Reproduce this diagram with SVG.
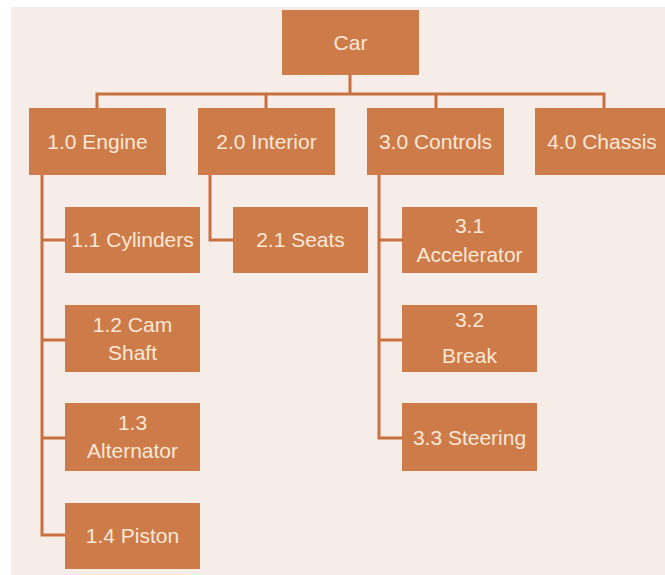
<svg xmlns="http://www.w3.org/2000/svg" width="665" height="575" viewBox="0 0 665 575">
<style>
.bg{fill:#f6ece8}
.box{fill:#cd7b48}
.t{font-family:"Liberation Sans",Arial,sans-serif;font-size:21px;fill:#fbe8d8;text-anchor:middle}
.c{fill:none;stroke:#c8713e;stroke-width:3}
</style>
<rect x="0" y="0" width="665" height="575" fill="#ffffff"/>
<rect class="bg" x="11" y="7" width="654" height="568"/>
<g id="connectors">
<path class="c" d="M350,75 V94 M97,108 V94 H604 V108 M266,94 V108 M436,94 V108"/>
<path class="c" d="M42,175 V535 H65 M42,240 H65 M42,340 H65 M42,438 H65"/>
<path class="c" d="M210,175 V240 H233"/>
<path class="c" d="M379,175 V438 H402 M379,240 H402 M379,340 H402"/>
</g>
<g id="car"><rect class="box" x="282" y="10" width="137" height="65"/><text class="t" x="350.5" y="50">Car</text></g>
<g id="engine"><rect class="box" x="29" y="108" width="137" height="67"/><text class="t" x="97.5" y="149">1.0 Engine</text></g>
<g id="interior"><rect class="box" x="198" y="108" width="137" height="67"/><text class="t" x="266.5" y="149">2.0 Interior</text></g>
<g id="controls"><rect class="box" x="367" y="108" width="137" height="67"/><text class="t" x="435.5" y="149">3.0 Controls</text></g>
<g id="chassis"><rect class="box" x="535" y="108" width="137" height="67"/><text class="t" x="602" y="149">4.0 Chassis</text></g>
<g id="cylinders"><rect class="box" x="65" y="207" width="135" height="66"/><text class="t" x="132.5" y="247">1.1 Cylinders</text></g>
<g id="camshaft"><rect class="box" x="65" y="305" width="135" height="67"/><text class="t" x="132.5" y="332">1.2 Cam</text><text class="t" x="132.5" y="360">Shaft</text></g>
<g id="alternator"><rect class="box" x="65" y="403" width="135" height="68"/><text class="t" x="132.5" y="430">1.3</text><text class="t" x="132.5" y="458">Alternator</text></g>
<g id="piston"><rect class="box" x="65" y="503" width="135" height="66"/><text class="t" x="132.5" y="543">1.4 Piston</text></g>
<g id="seats"><rect class="box" x="233" y="207" width="135" height="66"/><text class="t" x="300.5" y="247">2.1 Seats</text></g>
<g id="accelerator"><rect class="box" x="402" y="207" width="135" height="66"/><text class="t" x="469.5" y="233">3.1</text><text class="t" x="469.5" y="262">Accelerator</text></g>
<g id="break"><rect class="box" x="402" y="305" width="135" height="67"/><text class="t" x="469.5" y="327">3.2</text><text class="t" x="469.5" y="363">Break</text></g>
<g id="steering"><rect class="box" x="402" y="403" width="135" height="68"/><text class="t" x="469.5" y="445">3.3 Steering</text></g>
</svg>
